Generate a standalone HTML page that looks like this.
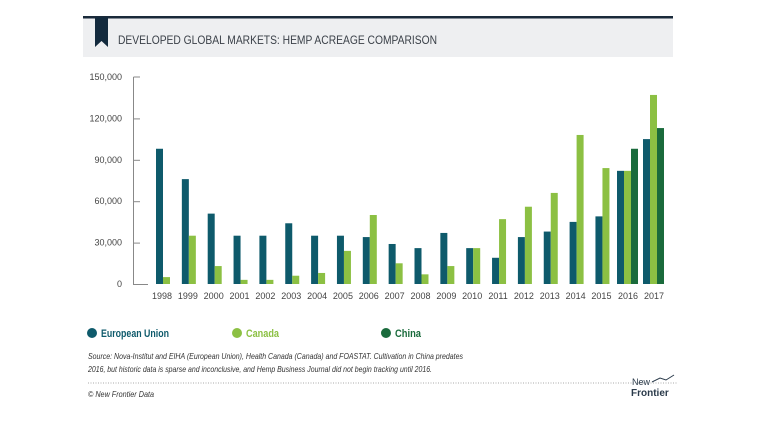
<!DOCTYPE html>
<html><head><meta charset="utf-8"><style>
body{margin:0;width:768px;height:417px;background:#fff;overflow:hidden;font-family:"Liberation Sans",sans-serif}
</style></head><body>
<svg id="s" width="768" height="417" xmlns="http://www.w3.org/2000/svg" font-family="Liberation Sans, sans-serif">
<rect x="83" y="18" width="590" height="39" fill="#eeeff1"/>
<rect x="83" y="16" width="590" height="2.5" fill="#1a2a3a"/>
<polygon points="95,17 108,17 108,47 101.5,41 95,47" fill="#132a3d"/>
<text x="118" y="44" font-size="12" textLength="319" lengthAdjust="spacingAndGlyphs" fill="#3a4048">DEVELOPED GLOBAL MARKETS: HEMP ACREAGE COMPARISON</text>
<g stroke="#888" stroke-width="1" fill="none">
<path d="M133.5,77 V284.5 H148 M133.5,77 H140"/>
</g>
<g id="bars"></g>
<g id="lab" font-size="9" fill="#444"></g>
<circle cx="92" cy="333" r="5" fill="#0e5a6b"/>
<text x="101" y="337" font-size="11" font-weight="bold" textLength="68" lengthAdjust="spacingAndGlyphs" fill="#0e5a6b">European Union</text>
<circle cx="237" cy="333" r="5" fill="#8cc043"/>
<text x="246" y="337" font-size="11" font-weight="bold" textLength="33" lengthAdjust="spacingAndGlyphs" fill="#8cc043">Canada</text>
<circle cx="386" cy="333" r="5" fill="#1a6b3c"/>
<text x="395" y="337" font-size="11" font-weight="bold" textLength="26" lengthAdjust="spacingAndGlyphs" fill="#1a6b3c">China</text>
<text x="88" y="359" font-size="8.3" font-style="italic" fill="#333" textLength="375" lengthAdjust="spacingAndGlyphs">Source: Nova-Institut and EIHA (European Union), Health Canada (Canada) and FOASTAT. Cultivation in China predates</text>
<text x="88" y="372" font-size="8.3" font-style="italic" fill="#333" textLength="344" lengthAdjust="spacingAndGlyphs">2016, but historic data is sparse and inconclusive, and Hemp Business Journal did not begin tracking until 2016.</text>
<line x1="88" y1="383" x2="678" y2="383" stroke="#aaa" stroke-dasharray="1,1.5"/>
<text x="88" y="397" font-size="8.3" font-style="italic" fill="#333" textLength="66" lengthAdjust="spacingAndGlyphs">© New Frontier Data</text>
<text x="632" y="385" font-size="9" fill="#2a3a4a">New</text>
<text x="631" y="396" font-size="10" font-weight="bold" fill="#2a3a4a">Frontier</text>
<path d="M652,382 l8,-4 l6,2 l8,-5" stroke="#2a3a4a" fill="none" stroke-width="1"/>
</svg>
<script>
var eu=[98,76,51,35,35,44,35,35,34,29,26,37,26,19,34,38,45,49,82,105];
var ca=[5,35,13,3,3,6,8,24,50,15,7,13,26,47,56,66,108,84,82,137];
var ns="http://www.w3.org/2000/svg",b=document.getElementById("bars"),l=document.getElementById("lab");
function r(x,v,c){var h=v*1.38,e=document.createElementNS(ns,"rect");e.setAttribute("x",x);e.setAttribute("y",284-h);e.setAttribute("width",7);e.setAttribute("height",h);e.setAttribute("fill",c);b.appendChild(e);}
function t(x,y,s,a){var e=document.createElementNS(ns,"text");e.setAttribute("x",x);e.setAttribute("y",y);e.setAttribute("text-anchor",a);e.textContent=s;l.appendChild(e);}
for(var i=0;i<20;i++){var c=162+i*25.85;var x0=i<18?c-6:(i==18?617:643);
r(x0,eu[i],"#0e5a6b");r(x0+7,ca[i],"#8cc043");if(i>=18)r(x0+14,i==18?98:113,"#1a6b3c");
t(i<18?c:x0+11,299,String(1998+i),"middle");}
var yl=["0","30,000","60,000","90,000","120,000","150,000"];
for(var k=0;k<6;k++){t(122,287-k*41.4,yl[k],"end");if(k>0&&k<5){var ln=document.createElementNS(ns,"line");ln.setAttribute("x1",133.5);ln.setAttribute("x2",140);ln.setAttribute("y1",284.5-k*41.4);ln.setAttribute("y2",284.5-k*41.4);ln.setAttribute("stroke","#888");b.appendChild(ln);}}
</script>
</body></html>
